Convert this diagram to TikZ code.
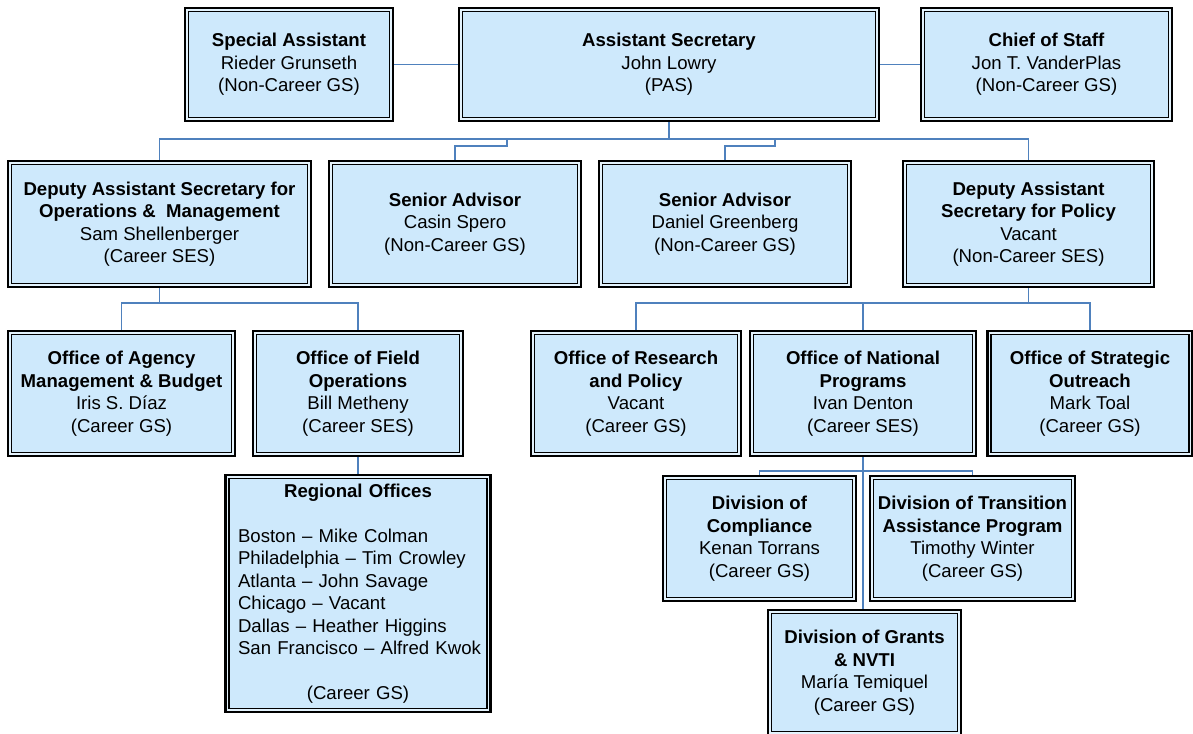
\documentclass[tikz,border=0pt]{standalone}
\usepackage{fontspec}
\setmainfont{Liberation Sans}
\usetikzlibrary{positioning, backgrounds}
\definecolor{boxblue}{RGB}{206,233,252}
\definecolor{gapblue}{RGB}{228,243,253}
\definecolor{linkblue}{RGB}{79,129,189}
\tikzset{
box/.style 2 args={draw=black, fill=boxblue, line width=1.3pt, double=gapblue, double distance=1.4pt,
  preaction={draw=black, line width=6.4pt},
  minimum width=#1pt-2.3pt, minimum height=#2pt-2.3pt, inner sep=0pt, align=center,
  font=\fontsize{18.6}{22.5}\selectfont}, % unit with thick double frame
link/.style={draw=linkblue, line width=1.6pt}, % blue connector
}

\begin{document}
\begin{tikzpicture}[x=1pt, y=1pt]
  \useasboundingbox (0,0) rectangle (1193,-733);
  \clip (0,0) rectangle (1193,-733);

  % top row
  \node[box={418}{111}] (as) at (669,-64.5) {\textbf{Assistant Secretary}\\John Lowry\\(PAS)};
  \node[box={206}{111}, left of=as, node distance=380pt] (sa) {\textbf{Special Assistant}\\Rieder Grunseth\\(Non-Career GS)};
  \node[box={249}{111}, right of=as, node distance=377.5pt] (cos) {\textbf{Chief of Staff}\\Jon T. VanderPlas\\(Non-Career GS)};

  % deputies and advisors
  \node[box={301}{124}] (dasom) at (159.5,-224) {\textbf{Deputy Assistant Secretary for}\\\textbf{Operations \&~ Management}\\Sam Shellenberger\\(Career SES)};
  \node[box={250}{124}, right of=dasom, node distance=295.5pt] (spero) {\textbf{Senior Advisor}\\Casin Spero\\(Non-Career GS)};
  \node[box={250}{124}, right of=spero, node distance=270pt] (green) {\textbf{Senior Advisor}\\Daniel Greenberg\\(Non-Career GS)};
  \node[box={249}{124}, right of=green, node distance=303.5pt] (dasp) {\textbf{Deputy Assistant}\\\textbf{Secretary for Policy}\\Vacant\\(Non-Career SES)};

  % offices
  \node[box={225}{123}] (agency) at (121.5,-393.5) {\textbf{Office of Agency}\\\textbf{Management \& Budget}\\Iris S. Díaz\\(Career GS)};
  \node[box={208}{123}, right of=agency, node distance=236.5pt] (field) {\textbf{Office of Field}\\\textbf{Operations}\\Bill Metheny\\(Career SES)};
  \node[box={208}{123}, right of=field, node distance=278pt] (research) {\textbf{Office of Research}\\\textbf{and Policy}\\Vacant\\(Career GS)};
  \node[box={224}{123}, right of=research, node distance=227pt] (national) {\textbf{Office of National}\\\textbf{Programs}\\Ivan Denton\\(Career SES)};
  \node[box={203}{123}, right of=national, node distance=227pt] (strategic) {\textbf{Office of Strategic}\\\textbf{Outreach}\\Mark Toal\\(Career GS)};

  \node[box={263}{235}, below of=field, node distance=200pt, align=left, text width=240pt, inner xsep=10pt] (regional)
    {\hfill\textbf{Regional Offices}\hfill\null\\[22.5pt]
     Boston – Mike Colman\\
     Philadelphia – Tim Crowley\\
     Atlanta – John Savage\\
     Chicago – Vacant\\
     Dallas – Heather Higgins\\
     \mbox{San Francisco – Alfred Kwok}\\[22.5pt]
     \hfill(Career GS)\hfill\null};

  % divisions
  \node[box={191}{123}] (compliance) at (759.5,-538.5) {\textbf{Division of}\\\textbf{Compliance}\\Kenan Torrans\\(Career GS)};
  \node[box={203}{123}, right of=compliance, node distance=213pt] (transition) {\textbf{Division of Transition}\\\textbf{Assistance Program}\\Timothy Winter\\(Career GS)};
  \node[box={191}{123}] (grants) at (864.5,-672.5) {\textbf{Division of Grants}\\\textbf{\& NVTI}\\María Temiquel\\(Career GS)};

  \begin{scope}[on background layer]
    \draw[link] (sa) -- (as);
    \draw[link] (as) -- (cos);
    \coordinate (busA) at (as.south |- 0,-139);
    \draw[link] (as.south) -- (busA);
    \draw[link] (dasom.north) |- (busA) -| (dasp.north);
    \coordinate (jogS) at (507,-146);
    \draw[link] (spero.north) |- (jogS) -- (jogS |- busA);
    \coordinate (jogG) at (775,-146);
    \draw[link] (green.north) |- (jogG) -- (jogG |- busA);

    \coordinate (busB) at (dasom.south |- 0,-303);
    \draw[link] (dasom.south) -- (busB);
    \draw[link] (agency.north) |- (busB) -| (field.north);
    \coordinate (busC) at (dasp.south |- 0,-303);
    \draw[link] (dasp.south) -- (busC);
    \draw[link] (research.north) |- (busC) -| (strategic.north);
    \draw[link] (national.north) -- (national.north |- busC);
    \draw[link] (field.south) -- (field.south |- regional.north);

    \coordinate (busD) at (national.south |- 0,-471);
    \draw[link] (compliance.north) |- (busD) -| (transition.north);
    \draw[link] (national.south) -- (national.south |- grants.north);
  \end{scope}
\end{tikzpicture}
\end{document}
